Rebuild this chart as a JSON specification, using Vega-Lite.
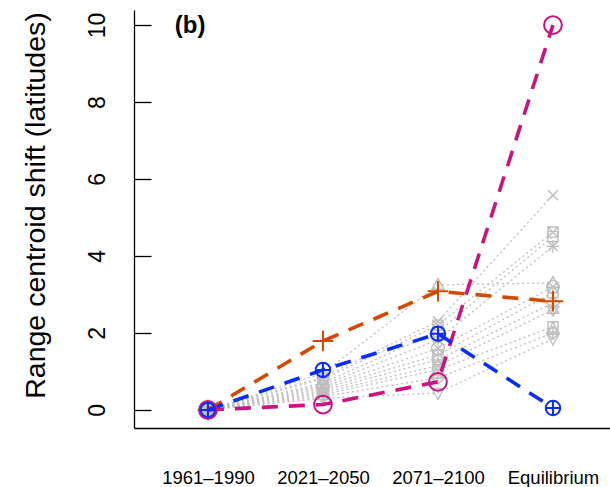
{
  "$schema": "https://vega.github.io/schema/vega-lite/v6.json",
  "width": 476,
  "height": 418,
  "autosize": {"type": "none"},
  "padding": {"left": 134, "top": 10, "right": 0, "bottom": 59},
  "background": "white",
  "config": {"view": {"stroke": null}, "font": "Liberation Sans"},
  "datasets": {
    "series": [
      {"series": "g1", "group": "gray", "shape": "tri", "t": 1, "value": 0},
      {"series": "g1", "group": "gray", "shape": "tri", "t": 2, "value": 0.95},
      {"series": "g1", "group": "gray", "shape": "tri", "t": 3, "value": 3.25},
      {"series": "g1", "group": "gray", "shape": "tri", "t": 4, "value": 3.3},
      {"series": "g2", "group": "gray", "shape": "x", "t": 1, "value": 0},
      {"series": "g2", "group": "gray", "shape": "x", "t": 2, "value": 0.85},
      {"series": "g2", "group": "gray", "shape": "x", "t": 3, "value": 2.3},
      {"series": "g2", "group": "gray", "shape": "x", "t": 4, "value": 5.58},
      {"series": "g3", "group": "gray", "shape": "sqx", "t": 1, "value": 0},
      {"series": "g3", "group": "gray", "shape": "sqx", "t": 2, "value": 0.8},
      {"series": "g3", "group": "gray", "shape": "sqx", "t": 3, "value": 2.2},
      {"series": "g3", "group": "gray", "shape": "sqx", "t": 4, "value": 4.62},
      {"series": "g4", "group": "gray", "shape": "sq", "t": 1, "value": 0},
      {"series": "g4", "group": "gray", "shape": "sq", "t": 2, "value": 0.7},
      {"series": "g4", "group": "gray", "shape": "sq", "t": 3, "value": 2.03},
      {"series": "g4", "group": "gray", "shape": "sq", "t": 4, "value": 4.5},
      {"series": "g5", "group": "gray", "shape": "ast", "t": 1, "value": 0},
      {"series": "g5", "group": "gray", "shape": "ast", "t": 2, "value": 0.65},
      {"series": "g5", "group": "gray", "shape": "ast", "t": 3, "value": 1.82},
      {"series": "g5", "group": "gray", "shape": "ast", "t": 4, "value": 4.25},
      {"series": "g6", "group": "gray", "shape": "cx", "t": 1, "value": 0},
      {"series": "g6", "group": "gray", "shape": "cx", "t": 2, "value": 0.6},
      {"series": "g6", "group": "gray", "shape": "cx", "t": 3, "value": 1.6},
      {"series": "g6", "group": "gray", "shape": "cx", "t": 4, "value": 3.2},
      {"series": "g7", "group": "gray", "shape": "sqp", "t": 1, "value": 0},
      {"series": "g7", "group": "gray", "shape": "sqp", "t": 2, "value": 0.55},
      {"series": "g7", "group": "gray", "shape": "sqp", "t": 3, "value": 1.43},
      {"series": "g7", "group": "gray", "shape": "sqp", "t": 4, "value": 3.05},
      {"series": "g8", "group": "gray", "shape": "dia", "t": 1, "value": 0},
      {"series": "g8", "group": "gray", "shape": "dia", "t": 2, "value": 0.5},
      {"series": "g8", "group": "gray", "shape": "dia", "t": 3, "value": 1.3},
      {"series": "g8", "group": "gray", "shape": "dia", "t": 4, "value": 2.78},
      {"series": "g9", "group": "gray", "shape": "star", "t": 1, "value": 0},
      {"series": "g9", "group": "gray", "shape": "star", "t": 2, "value": 0.45},
      {"series": "g9", "group": "gray", "shape": "star", "t": 3, "value": 1.15},
      {"series": "g9", "group": "gray", "shape": "star", "t": 4, "value": 2.6},
      {"series": "g10", "group": "gray", "shape": "sqt", "t": 1, "value": 0},
      {"series": "g10", "group": "gray", "shape": "sqt", "t": 2, "value": 0.4},
      {"series": "g10", "group": "gray", "shape": "sqt", "t": 3, "value": 1.04},
      {"series": "g10", "group": "gray", "shape": "sqt", "t": 4, "value": 2.16},
      {"series": "g11", "group": "gray", "shape": "diap", "t": 1, "value": 0},
      {"series": "g11", "group": "gray", "shape": "diap", "t": 2, "value": 0.35},
      {"series": "g11", "group": "gray", "shape": "diap", "t": 3, "value": 0.83},
      {"series": "g11", "group": "gray", "shape": "diap", "t": 4, "value": 2.0},
      {"series": "g12", "group": "gray", "shape": "trid", "t": 1, "value": 0},
      {"series": "g12", "group": "gray", "shape": "trid", "t": 2, "value": 0.3},
      {"series": "g12", "group": "gray", "shape": "trid", "t": 3, "value": 0.44},
      {"series": "g12", "group": "gray", "shape": "trid", "t": 4, "value": 1.85},
      {"series": "orange", "group": "hl", "shape": "plus", "t": 1, "value": 0},
      {"series": "orange", "group": "hl", "shape": "plus", "t": 2, "value": 1.79},
      {"series": "orange", "group": "hl", "shape": "plus", "t": 3, "value": 3.08},
      {"series": "orange", "group": "hl", "shape": "plus", "t": 4, "value": 2.82},
      {"series": "magenta", "group": "hl", "shape": "circ", "t": 1, "value": 0},
      {"series": "magenta", "group": "hl", "shape": "circ", "t": 2, "value": 0.14},
      {"series": "magenta", "group": "hl", "shape": "circ", "t": 3, "value": 0.73},
      {"series": "magenta", "group": "hl", "shape": "circ", "t": 4, "value": 10.0},
      {"series": "blue", "group": "hl", "shape": "cplus", "t": 1, "value": 0},
      {"series": "blue", "group": "hl", "shape": "cplus", "t": 2, "value": 1.04},
      {"series": "blue", "group": "hl", "shape": "cplus", "t": 3, "value": 1.98},
      {"series": "blue", "group": "hl", "shape": "cplus", "t": 4, "value": 0.05}
    ],
    "label": [{"t": 0.845, "value": 9.98, "text": "(b)"}]
  },
  "resolve": {"scale": {"shape": "independent", "size": "independent", "color": "independent"}, "axis": {"y": "independent"}},
  "layer": [
    {
      "data": {"name": "series"},
      "transform": [{"filter": "datum.group === 'gray'"}],
      "mark": {"type": "line", "color": "#BEBEBE", "strokeWidth": 1.3, "strokeDash": [2, 3]},
      "encoding": {
        "x": {
          "field": "t", "type": "quantitative",
          "scale": {"domain": [0.357, 4.496], "nice": false, "zero": false},
          "axis": {
            "values": [1, 2, 3, 4],
            "labelExpr": "['', '1961–1990', '2021–2050', '2071–2100', 'Equilibrium'][datum.value]",
            "title": null, "grid": false, "ticks": false,
            "domainColor": "black", "domainWidth": 1.3,
            "labelFontSize": 18.5, "labelColor": "black", "labelPadding": 40, "labelFlush": false
          }
        },
        "y": {
          "field": "value", "type": "quantitative",
          "scale": {"domain": [-0.47, 10.39], "nice": false, "zero": false},
          "axis": {
            "orient": "left",
            "values": [0, 2, 4, 6, 8, 10],
            "title": "Range centroid shift (latitudes)",
            "titleFontSize": 28.5, "titleFontWeight": "normal", "titleColor": "black", "titlePadding": 36, "titleY": 195,
            "grid": false, "ticks": false,
            "domainColor": "black", "domainWidth": 1.3,
            "labelAngle": -90, "labelFontSize": 23, "labelColor": "black", "labelPadding": 25,
            "labelAlign": "center", "labelBaseline": "bottom", "labelFlush": false
          }
        },
        "detail": {"field": "series"}
      }
    },
    {
      "data": {"name": "series"},
      "transform": [{"filter": "datum.group === 'gray'"}],
      "mark": {"type": "point", "filled": false, "color": "#BEBEBE", "strokeWidth": 1.4, "size": 160, "opacity": 1},
      "encoding": {
        "x": {"field": "t", "type": "quantitative"},
        "y": {"field": "value", "type": "quantitative", "axis": null},
        "shape": {
          "field": "shape", "type": "nominal", "legend": null,
          "scale": {
            "domain": ["tri", "x", "sqx", "sq", "ast", "cx", "sqp", "dia", "star", "sqt", "diap", "trid"],
            "range": [
              "M0,-1L0.95,0.7L-0.95,0.7Z",
              "M-0.8,-0.8L0.8,0.8M-0.8,0.8L0.8,-0.8",
              "M-0.8,-0.8L0.8,-0.8L0.8,0.8L-0.8,0.8ZM-0.8,-0.8L0.8,0.8M-0.8,0.8L0.8,-0.8",
              "M-0.8,-0.8L0.8,-0.8L0.8,0.8L-0.8,0.8Z",
              "M-1,0L1,0M0,-1L0,1M-0.75,-0.75L0.75,0.75M-0.75,0.75L0.75,-0.75",
              "M-1,0A1,1 0 1,0 1,0A1,1 0 1,0 -1,0ZM-0.7,-0.7L0.7,0.7M-0.7,0.7L0.7,-0.7",
              "M-0.8,-0.8L0.8,-0.8L0.8,0.8L-0.8,0.8ZM-0.8,0L0.8,0M0,-0.8L0,0.8",
              "M0,-1L1,0L0,1L-1,0Z",
              "M0,-1L0.9,0.55L-0.9,0.55ZM0,1L0.9,-0.55L-0.9,-0.55Z",
              "M-0.8,-0.8L0.8,-0.8L0.8,0.8L-0.8,0.8ZM-0.8,0.8L0,-0.8L0.8,0.8",
              "M0,-1L1,0L0,1L-1,0ZM-1,0L1,0M0,-1L0,1",
              "M0,1L0.95,-0.7L-0.95,-0.7Z"
            ]
          }
        }
      }
    },
    {
      "data": {"name": "series"},
      "transform": [{"filter": "datum.group === 'hl'"}],
      "mark": {"type": "line", "strokeWidth": 3.6, "strokeDash": [16, 11]},
      "encoding": {
        "x": {"field": "t", "type": "quantitative"},
        "y": {"field": "value", "type": "quantitative", "axis": null},
        "color": {
          "field": "series", "type": "nominal", "legend": null,
          "scale": {"domain": ["orange", "magenta", "blue"], "range": ["#D24A00", "#CC1480", "#0A2CFF"]}
        }
      }
    },
    {
      "data": {"name": "series"},
      "transform": [{"filter": "datum.group === 'hl'"}],
      "mark": {"type": "point", "filled": false, "strokeWidth": 2, "opacity": 1},
      "encoding": {
        "x": {"field": "t", "type": "quantitative"},
        "y": {"field": "value", "type": "quantitative", "axis": null},
        "color": {
          "field": "series", "type": "nominal", "legend": null,
          "scale": {"domain": ["orange", "magenta", "blue"], "range": ["#D24A00", "#CC1480", "#0A2CFF"]}
        },
        "size": {
          "field": "series", "type": "ordinal", "legend": null,
          "scale": {"domain": ["orange", "magenta", "blue"], "range": [420, 210, 210]}
        },
        "shape": {
          "field": "shape", "type": "nominal", "legend": null,
          "scale": {
            "domain": ["plus", "circ", "cplus"],
            "range": [
              "M-1,0L1,0M0,-1L0,1",
              "M-1,0A1,1 0 1,0 1,0A1,1 0 1,0 -1,0Z",
              "M-1,0A1,1 0 1,0 1,0A1,1 0 1,0 -1,0ZM-1,0L1,0M0,-1L0,1"
            ]
          }
        }
      }
    },
    {
      "data": {"name": "label"},
      "mark": {"type": "text", "fontSize": 24, "fontWeight": "bold", "color": "black", "align": "center", "baseline": "middle"},
      "encoding": {
        "x": {"field": "t", "type": "quantitative"},
        "y": {
          "field": "value", "type": "quantitative",
          "axis": {
            "orient": "left", "offset": -17, "values": [0, 2, 4, 6, 8, 10],
            "title": null, "labels": false, "domain": false, "grid": false,
            "ticks": true, "tickSize": 17, "tickColor": "black", "tickWidth": 1.3
          }
        },
        "text": {"field": "text"}
      }
    }
  ]
}
